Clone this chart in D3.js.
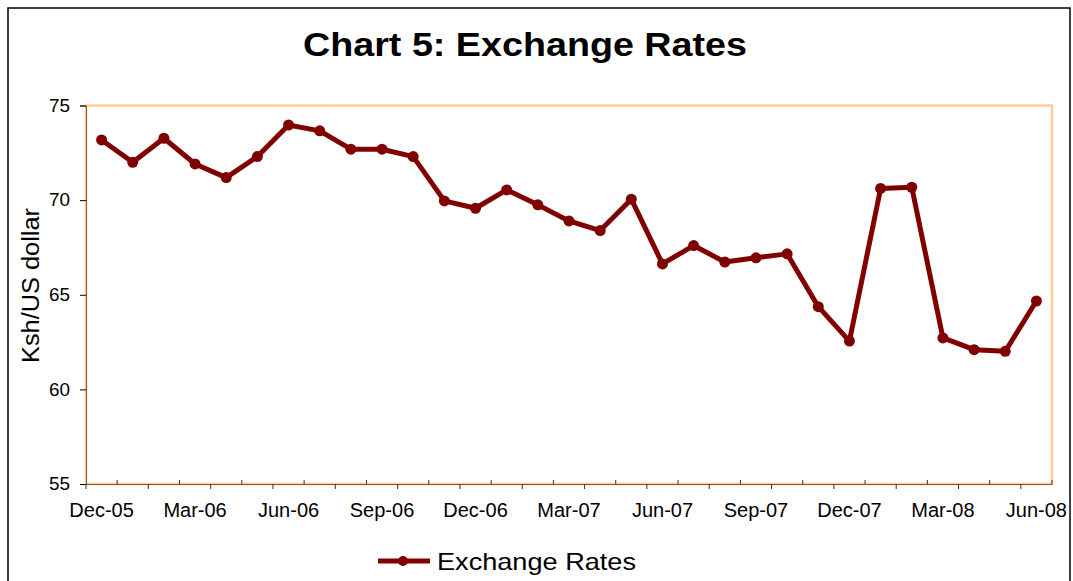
<!DOCTYPE html>
<html><head><meta charset="utf-8">
<script src="https://cdn.jsdelivr.net/npm/d3@7"></script>
<style>
html,body{margin:0;padding:0;background:#fff;}
svg{display:block;font-family:"Liberation Sans",Arial,sans-serif;}
</style></head>
<body>
<svg id="chart" width="1073" height="581"></svg>
<script>
const months = ["Dec-05","Jan-06","Feb-06","Mar-06","Apr-06","May-06","Jun-06","Jul-06","Aug-06","Sep-06","Oct-06","Nov-06","Dec-06","Jan-07","Feb-07","Mar-07","Apr-07","May-07","Jun-07","Jul-07","Aug-07","Sep-07","Oct-07","Nov-07","Dec-07","Jan-08","Feb-08","Mar-08","Apr-08","May-08","Jun-08"];
const rates = [73.18,72.00,73.27,71.91,71.19,72.30,73.97,73.66,72.69,72.69,72.30,69.96,69.57,70.54,69.75,68.90,68.39,70.05,66.63,67.60,66.73,66.95,67.16,64.37,62.55,70.62,70.68,62.72,62.10,62.01,64.67];
const xLabels = ["Dec-05","Mar-06","Jun-06","Sep-06","Dec-06","Mar-07","Jun-07","Sep-07","Dec-07","Mar-08","Jun-08"];
const yTicks = [55,60,65,70,75];
const title = "Chart 5: Exchange Rates";
const yTitle = "Ksh/US dollar";
const seriesName = "Exchange Rates";

const svg = d3.select("#chart");
const L = 86, R = 1052, T = 105.5, B = 484;
const lineColor = "#800000";

const x = d3.scaleBand().domain(months).range([L, R]).padding(0);
const y = d3.scaleLinear().domain([55, 75]).range([B, T]);
const cx = m => x(m) + x.bandwidth() / 2;

// outer frame
svg.append("rect").attr("x", 8).attr("y", 8).attr("width", 1062).attr("height", 600)
  .attr("fill", "none").attr("stroke", "#000").attr("stroke-width", 1.5);

// title
svg.append("text").attr("x", 525).attr("y", 56).attr("text-anchor", "middle")
  .attr("font-size", 33).attr("font-weight", "bold")
  .attr("textLength", 444).attr("lengthAdjust", "spacingAndGlyphs").text(title);

// plot border
svg.append("rect").attr("x", L).attr("y", T).attr("width", R - L).attr("height", B - T)
  .attr("fill", "none").attr("stroke", "#FFCC99").attr("stroke-width", 2.5);

// y axis
const yAxis = svg.append("g").attr("transform", `translate(${L},0)`)
  .call(d3.axisLeft(y).tickValues(yTicks).tickSize(6).tickPadding(10).tickFormat(d3.format("d")));
yAxis.select(".domain").attr("stroke", "#8a5a2a").attr("stroke-width", 1);
yAxis.selectAll(".tick line").attr("stroke", "#000");
yAxis.selectAll(".tick text").attr("font-size", 18).attr("fill", "#000")
  .attr("font-family", "Liberation Sans, Arial, sans-serif")
  .attr("textLength", 21).attr("lengthAdjust", "spacingAndGlyphs");

// x axis labels
const xAxis = svg.append("g").attr("transform", `translate(0,${B})`)
  .call(d3.axisBottom(x).tickValues(xLabels).tickSize(0).tickPadding(19));
xAxis.select(".domain").attr("stroke", "#8a5a2a").attr("stroke-width", 1);
xAxis.selectAll(".tick text").attr("font-size", 20).attr("fill", "#000")
  .attr("font-family", "Liberation Sans, Arial, sans-serif");
// boundary ticks, alternating outward / inward
const bounds = months.map(m => x(m)).concat([R]);
svg.append("g").selectAll("line").data(bounds).join("line")
  .attr("x1", d => d).attr("x2", d => d)
  .attr("y1", (d, i) => i % 2 === 0 ? B : B - 4)
  .attr("y2", (d, i) => i % 2 === 0 ? B + 5 : B)
  .attr("stroke", "#333").attr("stroke-width", 1);

// y title
svg.append("text").attr("transform", `translate(39,${285.5}) rotate(-90)`)
  .attr("text-anchor", "middle").attr("font-size", 23)
  .attr("textLength", 155).attr("lengthAdjust", "spacingAndGlyphs").text(yTitle);

// line + markers
const line = d3.line().x((d, i) => cx(months[i])).y(d => y(d));
svg.append("path").datum(rates).attr("d", line).attr("fill", "none")
  .attr("stroke", lineColor).attr("stroke-width", 5).attr("stroke-linejoin", "round");
svg.append("g").selectAll("circle").data(rates).join("circle")
  .attr("cx", (d, i) => cx(months[i])).attr("cy", d => y(d)).attr("r", 5.5)
  .attr("fill", lineColor);

// legend
const lg = svg.append("g");
lg.append("line").attr("x1", 378).attr("x2", 430).attr("y1", 561).attr("y2", 561)
  .attr("stroke", lineColor).attr("stroke-width", 5);
lg.append("circle").attr("cx", 403).attr("cy", 561).attr("r", 5).attr("fill", lineColor);
lg.append("text").attr("x", 437).attr("y", 570).attr("font-size", 24)
  .attr("textLength", 199).attr("lengthAdjust", "spacingAndGlyphs").text(seriesName);
</script>
</body></html>
